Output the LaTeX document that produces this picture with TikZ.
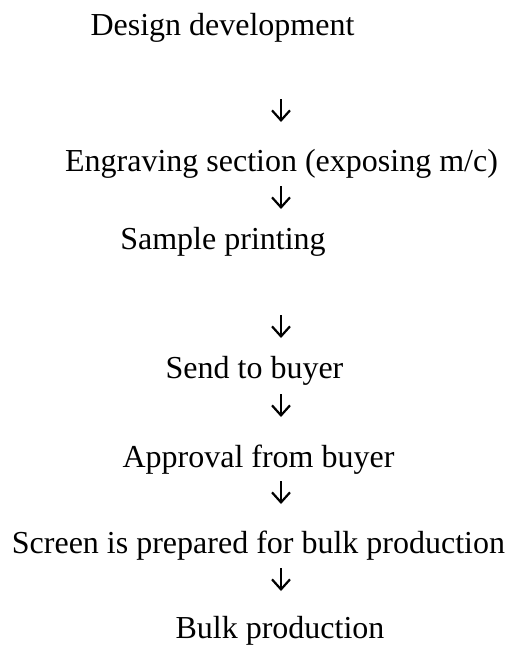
\documentclass[tikz,border=0pt]{standalone}
\usepackage{fontspec}
\setmainfont{Liberation Serif}
\usetikzlibrary{arrows.meta}
\begin{document}
\begin{tikzpicture}[x=1pt,y=1pt,
  stage/.style={anchor=base,inner sep=0pt,font=\fontsize{32}{36}\selectfont},
  flow/.style={line width=2.2pt,-{Straight Barb[length=10pt,width=18pt,line width=2.2pt]}}]
\useasboundingbox (0,0) rectangle (509,-648);
% process stages, placed by centre and baseline
\node[stage] (design)   at (222.5,-35)    {Design development};
\node[stage] (engrave)  at (281.5,-171.5) {Engraving section (exposing m/c)};
\node[stage] (sample)   at (223,-249.5)   {Sample printing};
\node[stage] (send)     at (254.5,-378.5) {Send to buyer};
\node[stage] (approval) at (258.5,-467)   {Approval from buyer};
\node[stage] (screen)   at (258.5,-553.5) {Screen is prepared for bulk production};
\node[stage] (bulk)     at (280,-638)     {Bulk production};
% arrow ends between the stages
\coordinate (a1s) at (281,-99);  \coordinate (a1e) at (281,-122);
\coordinate (a2s) at (281,-186); \coordinate (a2e) at (281,-209);
\coordinate (a3s) at (281,-315); \coordinate (a3e) at (281,-338);
\coordinate (a4s) at (281,-394); \coordinate (a4e) at (281,-417);
\coordinate (a5s) at (281,-481); \coordinate (a5e) at (281,-504);
\coordinate (a6s) at (281,-568); \coordinate (a6e) at (281,-591);
\foreach \k in {1,...,6} \draw[flow] (a\k s) -- (a\k e);
\end{tikzpicture}
\end{document}
